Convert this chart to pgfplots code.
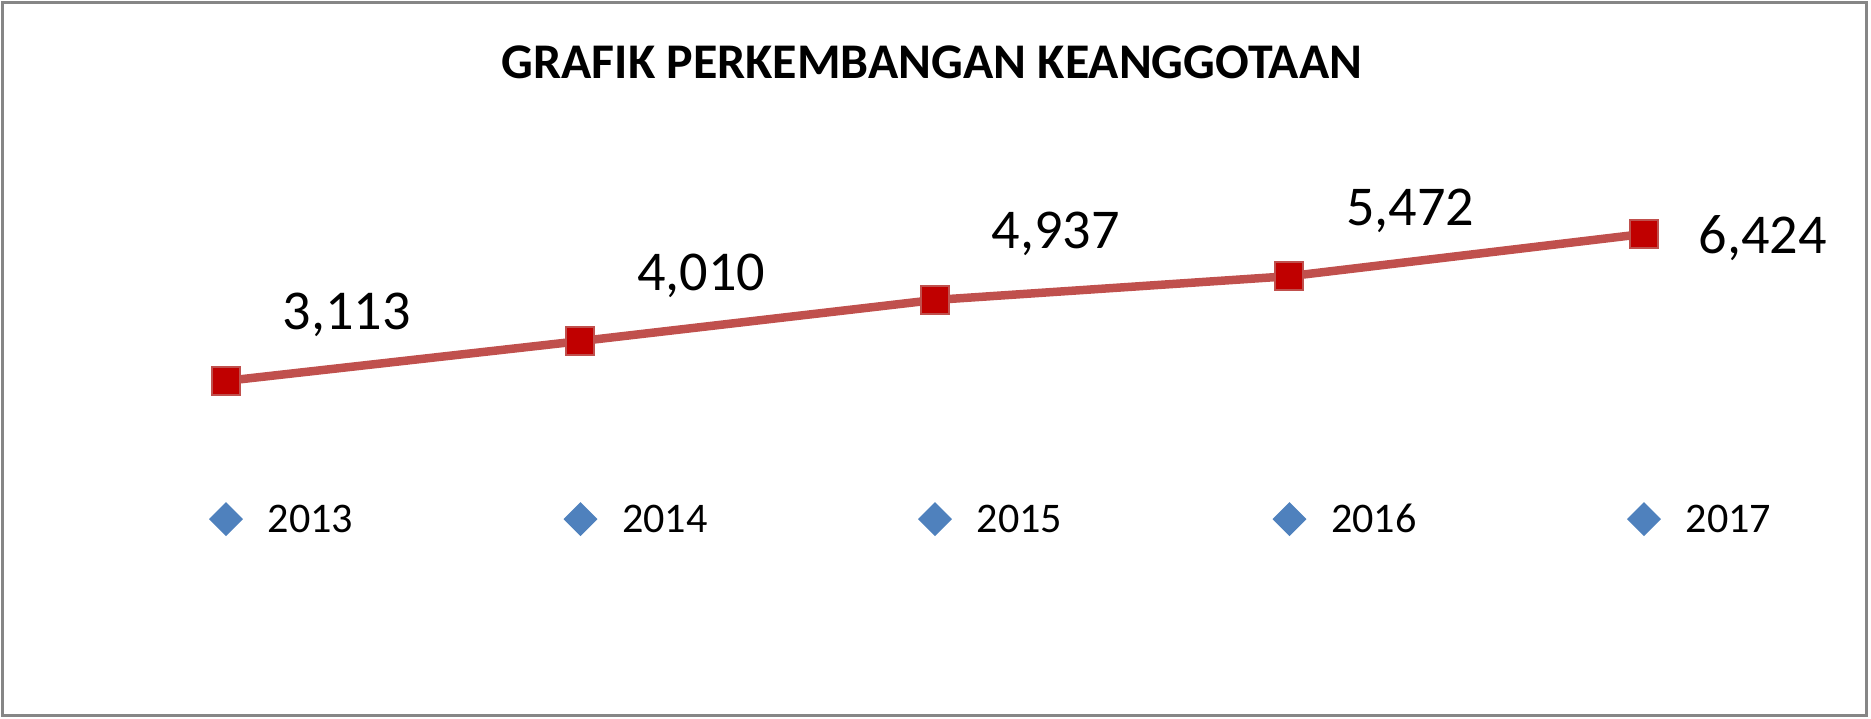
\documentclass[border=0pt]{standalone}
\usepackage{fontspec}
\setmainfont{Carlito}
\usepackage{pgfplots}
\usepackage{pgfplotstable}
\pgfplotsset{compat=1.18}

\definecolor{lineRed}{HTML}{C0504D}
\definecolor{markRed}{HTML}{C00000}
\definecolor{legBlue}{HTML}{4F81BD}
\definecolor{frameGray}{HTML}{868686}

% jumlah anggota per tahun
\pgfplotstableread{
x y lab
0 3113 3,113
1 4010 4,010
2 4937 4,937
3 5472 5,472
4 6424 6,424
}\members

% penanda tahun (baris bawah)
\pgfplotstableread{
x y yr
0 0 2013
1 0 2014
2 0 2015
3 0 2016
4 0 2017
}\years

\begin{document}
\begin{tikzpicture}
\begin{axis}[
    width=187.1mm, height=71.8mm,
    scale only axis,
    hide axis,
    clip=false,
    xmin=-0.6375, xmax=4.6404,
    ymin=-4482, ymax=11694,
]
% bingkai dan judul
\draw[frameGray, line width=0.3mm]
    (rel axis cs:0.00134,0.99721) rectangle (rel axis cs:0.99733,0.00418);
\path (rel axis cs:0,0) rectangle (rel axis cs:1,1);
\node[font=\bfseries\fontsize{14.2}{17}\selectfont, inner sep=0pt]
    at (rel axis cs:0.4981,0.9130) {GRAFIK PERKEMBANGAN KEANGGOTAAN};

% garis anggota
\addplot[lineRed, line width=0.85mm, mark=square*, mark size=1.4mm,
    mark options={fill=markRed, draw=lineRed, line width=0.2mm}]
    table[x=x, y=y] {\members};

% label nilai
\addplot[draw=none, mark=none, point meta=explicit symbolic,
    skip coords between index={4}{5},
    nodes near coords,
    nodes near coords style={font=\fontsize{16}{19}\selectfont, text=black,
        anchor=base west, inner sep=0pt, xshift=5.6mm, yshift=5.1mm}]
    table[x=x, y=y, meta=lab] {\members};
\addplot[draw=none, mark=none, point meta=explicit symbolic,
    skip coords between index={0}{4},
    nodes near coords,
    nodes near coords style={font=\fontsize{16}{19}\selectfont, text=black,
        anchor=base west, inner sep=0pt, xshift=5.4mm, yshift=-2mm}]
    table[x=x, y=y, meta=lab] {\members};

% tahun
\addplot[only marks, mark=square*, mark size=1.13mm,
    mark options={fill=legBlue, draw=legBlue, rotate=45},
    point meta=explicit symbolic,
    nodes near coords,
    nodes near coords style={font=\fontsize{12}{14}\selectfont, text=black,
        anchor=base west, inner sep=0pt, xshift=4.1mm, yshift=-1.3mm}]
    table[x=x, y=y, meta=yr] {\years};
\end{axis}
\end{tikzpicture}
\end{document}
